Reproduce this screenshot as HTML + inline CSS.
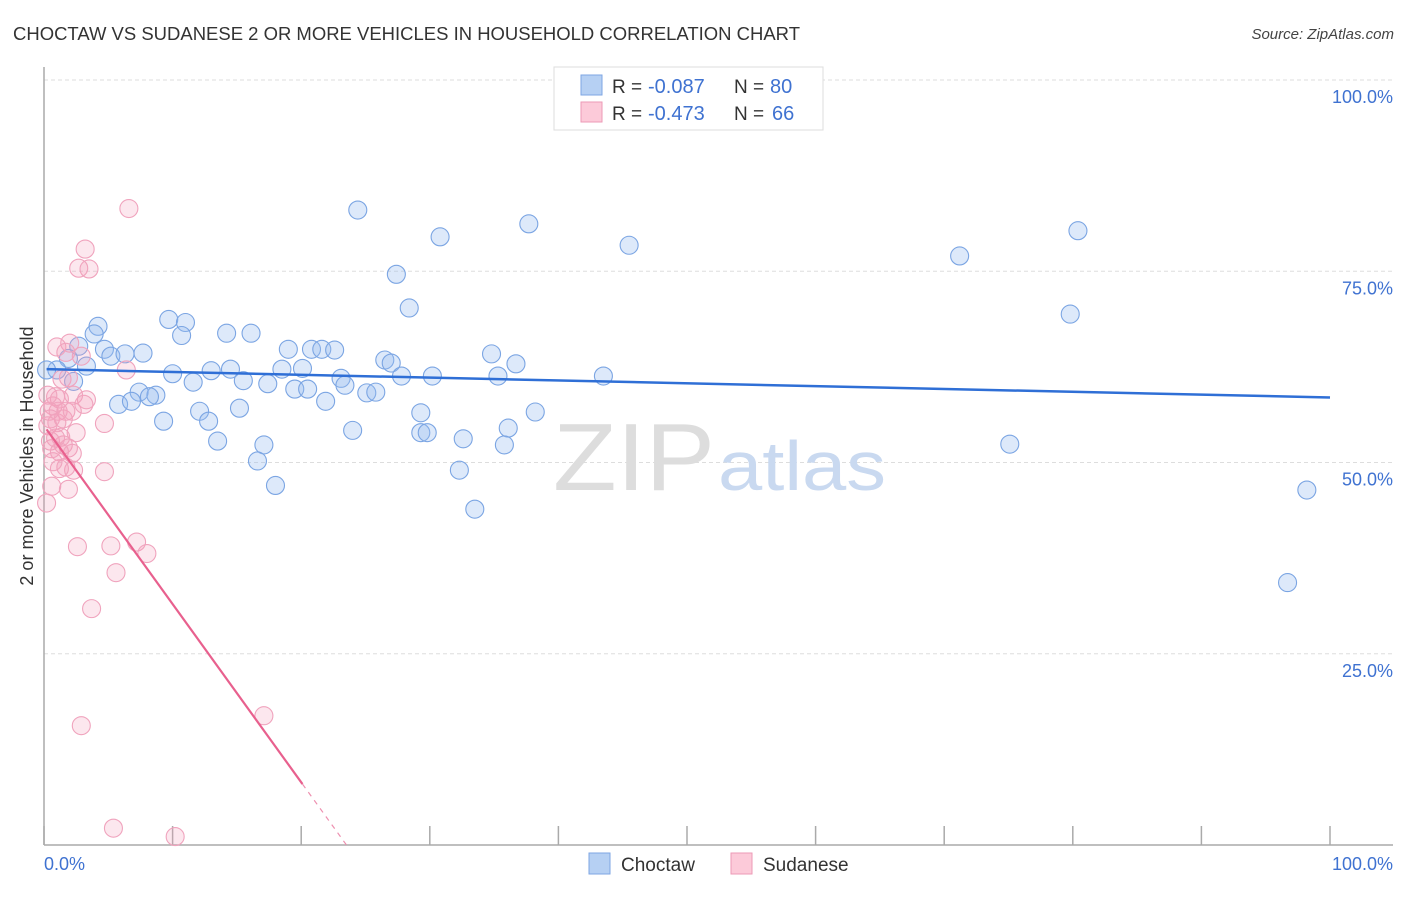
<!DOCTYPE html>
<html><head><meta charset="utf-8">
<style>
body{margin:0;background:#fff;font-family:"Liberation Sans",sans-serif;}
svg text{font-family:"Liberation Sans",sans-serif;}
</style></head>
<body>
<svg id="chart" width="1406" height="892" xmlns="http://www.w3.org/2000/svg">
<text x="13" y="40" font-size="18.5" fill="#333" textLength="787" lengthAdjust="spacingAndGlyphs">CHOCTAW VS SUDANESE 2 OR MORE VEHICLES IN HOUSEHOLD CORRELATION CHART</text>
<text x="1394" y="39" font-size="15" fill="#444" font-style="italic" text-anchor="end">Source: ZipAtlas.com</text>
<g id="grid"></g>
<g>
<text x="553" y="490" font-size="96" fill="#ddd" font-family="Liberation Serif, serif" textLength="162" lengthAdjust="spacingAndGlyphs">ZIP</text>
<text x="718" y="490" font-size="70" fill="#c9d9f0" textLength="168" lengthAdjust="spacingAndGlyphs">atlas</text>
</g>
<g id="axes"></g>
<g id="marks"></g>
<text transform="translate(33,456) rotate(-90)" font-size="18" fill="#333" text-anchor="middle">2 or more Vehicles in Household</text>
<text x="44" y="870" font-size="18" fill="#3f72d1">0.0%</text>
<text x="1393" y="870" font-size="18" fill="#3f72d1" text-anchor="end">100.0%</text>
<g>
<rect x="554" y="67" width="269" height="63" fill="#fff" stroke="#ddd"/>
<rect x="581" y="75" width="21" height="20" fill="#b6d0f3" stroke="#7ea6e3"/>
<rect x="581" y="102" width="21" height="20" fill="#fccad9" stroke="#ec9ab6"/>
<text x="612" y="93" font-size="19" fill="#333">R =</text>
<text x="648" y="93" font-size="20" fill="#3f72d1">-0.087</text>
<text x="734" y="93" font-size="19" fill="#333">N =</text>
<text x="770" y="93" font-size="20" fill="#3f72d1">80</text>
<text x="612" y="120" font-size="19" fill="#333">R =</text>
<text x="648" y="120" font-size="20" fill="#3f72d1">-0.473</text>
<text x="734" y="120" font-size="19" fill="#333">N =</text>
<text x="772" y="120" font-size="20" fill="#3f72d1">66</text>
</g>
<g>
<rect x="589" y="853" width="21" height="21" fill="#b6d0f3" stroke="#7ea6e3"/>
<text x="621" y="871" font-size="19" fill="#333">Choctaw</text>
<rect x="731" y="853" width="21" height="21" fill="#fccad9" stroke="#ec9ab6"/>
<text x="763" y="871" font-size="19" fill="#333">Sudanese</text>
</g>
</svg>
<script>
const yTicks=[100,75,50,25];
const yTickLabels=["100.0%","75.0%","50.0%","25.0%"];
const xTicks=[0,10,20,30,40,50,60,70,80,90,100];
const choctawX=[24.4,30.8,37.7,45.5,80.4,71.2,27.4,28.4,79.8,9.7,11.0,4.2,3.9,10.7,14.2,16.1,2.7,4.7,7.7,5.2,6.3,1.9,19.0,20.8,21.6,22.6,34.8,26.5,27.0,36.7,1.0,3.3,10.0,13.0,14.5,18.5,20.1,2.3,11.6,15.5,17.4,23.1,27.8,30.2,35.3,43.5,19.5,20.5,23.4,25.1,25.8,7.4,5.8,6.8,8.7,8.2,21.9,12.1,15.2,29.3,38.2,9.3,12.8,24.0,13.5,17.1,29.3,29.8,32.6,36.1,35.8,75.1,16.6,32.3,18.0,33.5,98.2,96.7,0.2];
const choctawY=[83.0,79.5,81.2,78.4,80.3,77.0,74.6,70.2,69.4,68.7,68.3,67.8,66.8,66.6,66.9,66.9,65.2,64.8,64.3,63.9,64.2,63.6,64.8,64.8,64.8,64.7,64.2,63.4,63.0,62.9,62.1,62.6,61.6,62.0,62.2,62.2,62.3,60.6,60.5,60.7,60.3,61.0,61.3,61.3,61.3,61.3,59.6,59.6,60.1,59.1,59.2,59.2,57.6,58.0,58.8,58.6,58.0,56.7,57.1,56.5,56.6,55.4,55.4,54.2,52.8,52.3,53.9,53.9,53.1,54.5,52.3,52.4,50.2,49.0,47.0,43.9,46.4,34.3,62.1];
const sudaneseX=[6.6,3.2,2.7,3.5,2.0,1.0,2.9,1.7,6.4,1.4,1.9,0.9,1.2,2.3,3.3,0.7,1.1,1.7,0.4,0.5,1.0,1.5,2.2,3.1,4.7,2.5,1.3,0.5,1.5,1.9,2.2,1.2,0.6,1.7,2.3,1.2,4.7,0.6,1.9,0.2,2.6,5.2,7.2,8.0,5.6,3.7,17.1,2.9,5.4,10.2,0.3,0.3,0.9,0.7];
const sudaneseY=[83.2,77.9,75.4,75.3,65.6,65.1,63.9,64.4,62.1,60.9,61.1,58.6,58.3,58.8,58.2,57.4,56.7,56.7,56.7,55.7,55.2,55.7,56.7,57.6,55.1,53.9,53.3,52.8,52.3,51.9,51.2,51.4,51.8,49.4,49.0,49.2,48.8,46.9,46.5,44.7,39.0,39.1,39.6,38.1,35.6,30.9,16.9,15.6,2.2,1.1,58.8,54.8,53.2,50.1];
const choctawTrend=[62.2,58.5];
const sudaneseTrend=[54.8,-2.33];
const sudaneseSolidEnd=20.1;

const NS="http://www.w3.org/2000/svg";
const X=v=>44+v*12.86;
const Y=v=>845-v*7.65;
function mk(tag,attrs,parent){const e=document.createElementNS(NS,tag);for(const k in attrs)e.setAttribute(k,attrs[k]);parent.appendChild(e);return e;}
const grid=document.getElementById('grid'),axes=document.getElementById('axes'),marks=document.getElementById('marks');
yTicks.forEach((t,i)=>{
 const l=mk('line',{x1:44,x2:1393,y1:Y(t),y2:Y(t),stroke:'#ddd','stroke-dasharray':'4,3'},grid);
 
 
 const tx=mk('text',{x:1393,y:Y(t)+23,'font-size':18,fill:'#3f72d1','text-anchor':'end'},grid);
 tx.textContent=yTickLabels[i];
 
 
});
let a=mk('line',{x1:44,x2:44,y1:67,y2:845,stroke:'#aaa','stroke-width':1.5},axes);


a=mk('line',{x1:44,x2:1393,y1:845,y2:845,stroke:'#aaa','stroke-width':1.5},axes);


xTicks.forEach(t=>{
 const l=mk('line',{x1:X(t),x2:X(t),y1:826,y2:845,stroke:'#aaa','stroke-width':1.5},axes);
 
 
});
choctawX.forEach((x,i)=>{
 const c=mk('circle',{cx:X(x),cy:Y(choctawY[i]),r:9,fill:'rgba(150,188,240,0.32)',stroke:'#7ba5e3','stroke-width':1.1},marks);
 
 
});
sudaneseX.forEach((x,i)=>{
 const c=mk('circle',{cx:X(x),cy:Y(sudaneseY[i]),r:9,fill:'rgba(245,160,188,0.25)',stroke:'#f0a3bd','stroke-width':1.1},marks);
 
 
});
let t=mk('line',{x1:X(0.2),y1:Y(choctawTrend[0]),x2:X(100),y2:Y(choctawTrend[1]),stroke:'#2f6fd6','stroke-width':2.5},marks);


const sy=x=>sudaneseTrend[0]+sudaneseTrend[1]*x;
const zeroX=-sudaneseTrend[0]/sudaneseTrend[1];
t=mk('line',{x1:X(0.2),y1:Y(sy(0.2)),x2:X(sudaneseSolidEnd),y2:Y(sy(sudaneseSolidEnd)),stroke:'#e8608e','stroke-width':2.2},marks);


t=mk('line',{x1:X(sudaneseSolidEnd),y1:Y(sy(sudaneseSolidEnd)),x2:X(zeroX),y2:Y(0),stroke:'#ee90b0','stroke-width':1.2,'stroke-dasharray':'5,5'},marks);


</script>
</body></html>
